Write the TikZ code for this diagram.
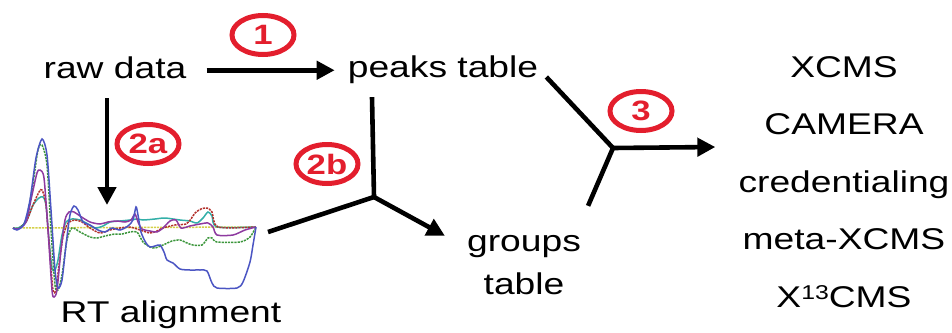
\documentclass[tikz,border=0pt]{standalone}
\usepackage{fontspec}
\setmainfont{Liberation Sans}[FakeStretch=1.24]
\usetikzlibrary{arrows.meta,shapes.geometric,calc}
\definecolor{stepred}{HTML}{E31E2D}
\definecolor{trBlue}{HTML}{4B55C3}
\definecolor{trGreen}{HTML}{3C963C}
\definecolor{trPurple}{HTML}{8E3AA0}
\definecolor{trTeal}{HTML}{33AFA8}
\definecolor{trRed}{HTML}{B3312C}
\definecolor{trYellow}{HTML}{D4D048}
\begin{document}
\begin{tikzpicture}[x=1pt,y=-1pt,
  lbl/.style={font=\fontsize{30}{35}\selectfont, inner sep=0pt, text height=21.5pt, text depth=6pt},
  stack/.style={align=center, inner sep=0pt},
  stepmark/.style={ellipse, draw=stepred, line width=5pt, minimum width=62pt, minimum height=39pt,
    inner sep=0pt, text=stepred, font=\bfseries\fontsize{28}{28}\selectfont},
  conn/.style={line width=4.6pt, line join=round},
  arr/.style={conn, -{Triangle[length=18pt,width=18pt]}},
  trace/.style={line width=1.5pt, smooth, tension=0.45},
  dashtrace/.style={trace, dash pattern=on 2.2pt off 1pt}]
\useasboundingbox (0,0) rectangle (952,332);

% text nodes
\node[lbl, anchor=base] (raw) at (115,78) {raw data};
\node[lbl, anchor=base] (peaks) at (443,77) {peaks table};
\node[lbl, anchor=base] (rt) at (171,322) {RT alignment};
\node[stack, font=\fontsize{30}{43.5}\selectfont] (groups) at (524,265) {groups\\table};
\node[stack, font=\fontsize{30}{57.5}\selectfont] (tools) at (844,182)
  {XCMS\\CAMERA\\credentialing\\meta-XCMS\\X\raisebox{8pt}{\fontsize{20}{20}\selectfont 13}CMS};

% step markers
\node[stepmark] (s1) at (263,35) {1};
\node[stepmark] (s2a) at (148,144) {2a};
\node[stepmark] (s2b) at (327,164) {2b};
\node[stepmark] (s3) at (641,111) {3};

% retention-time traces
\draw[dashtrace, trYellow] (13,228) -- (256,227);
\draw[trace, trTeal] plot coordinates {(13,228) (18,228) (26,222) (33,205) (39,198) (43,197) (46,205) (49,240) (52,268) (55,270) (58,260) (62,235) (66,222) (72,219) (80,220) (88,224) (95,228) (103,226) (110,222) (120,221) (130,220) (137,219) (143,220) (155,219) (165,218) (180,220) (190,221) (197,223) (203,218) (208,212) (212,216) (217,227) (256,227)};
\draw[dashtrace, trRed] plot coordinates {(13,228) (18,229) (26,222) (33,205) (39,192) (42,190) (46,205) (50,255) (53,290) (56,290) (59,265) (63,237) (68,223) (75,220) (82,222) (90,228) (100,233) (110,230) (120,228) (130,227) (140,230) (150,233) (157,231) (163,228) (175,225) (186,224) (191,219) (195,213) (201,209) (207,208) (212,212) (218,227) (256,227)};
\draw[dashtrace, trGreen] plot coordinates {(13,228) (18,229) (26,220) (32,190) (38,150) (42,145) (47,165) (51,230) (55,285) (58,290) (62,275) (67,240) (72,228) (80,232) (90,237) (97,238) (105,236) (115,234) (122,234) (130,232) (137,232) (143,242) (150,247) (155,248) (163,245) (172,241) (180,240) (187,243) (193,245) (202,245) (208,238) (212,238) (217,242) (240,242) (250,237) (256,227)};
\draw[trace, trPurple] plot coordinates {(13,228) (18,229) (26,222) (32,195) (37,173) (40,170) (44,178) (48,230) (52,290) (54,297) (57,290) (61,250) (65,220) (69,212) (74,212) (80,216) (90,222) (100,224) (108,222) (117,221) (125,222) (131,220) (135,214) (138,222) (142,229) (150,231) (157,232) (163,228) (170,221) (176,220) (181,228) (190,226) (200,224) (208,223) (213,227) (217,235) (233,235) (245,230) (256,227)};
\draw[trace, trBlue] plot coordinates {(13,228) (17,230) (24,224) (30,200) (36,158) (42,139) (47,155) (51,210) (55,270) (58,288) (62,280) (66,245) (70,215) (74,206) (78,210) (83,222) (90,225) (98,230) (105,232) (112,228) (120,230) (128,226) (133,220) (136,207) (138,215) (141,232) (146,243) (150,247) (155,246) (160,245) (164,252) (167,260) (173,263) (180,269) (190,270) (200,270) (207,271) (212,283) (217,288) (237,288) (243,282) (250,262) (253,245) (256,227)};

% connector end points on the trace plot
\coordinate (rtIn) at (107,205);
\coordinate (chromR) at (268,232);
\coordinate (j2) at (374,197);
\coordinate (j3) at (613,148);

% connectors
\draw[arr] ($(raw.east)+(20,0)$) -- ($(raw.east -| peaks.west)+(-13,0)$);
\draw[arr] ($(raw.south)+(-8,14)$) -- (rtIn);
\draw[conn] ($(peaks.south)+(-71,14)$) -- (j2) -- (chromR);
\draw[arr] (j2) -- ($(groups.north west)+(-22,1)$);
\draw[conn] ($(peaks.base east)+(8,0)$) -- (j3) -- ($(groups.north east)+(7,-29)$);
\draw[arr] (j3) -- ($(tools.west)+(-23,-35)$);
\end{tikzpicture}
\end{document}
